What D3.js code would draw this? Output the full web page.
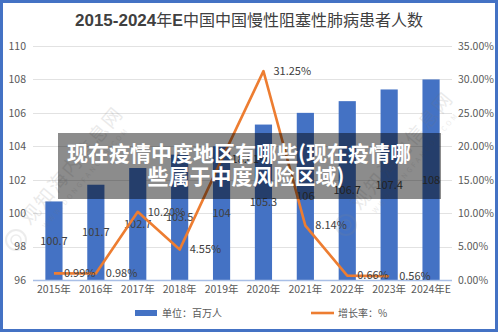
<!DOCTYPE html>
<html>
<head>
<meta charset="utf-8">
<script src="https://cdn.jsdelivr.net/npm/d3@7"></script>
<style>
  html, body { margin: 0; padding: 0; background: #fff; }
  svg { display: block; }
  text { font-family: "Noto Sans CJK SC", "Noto Sans", sans-serif; }
</style>
</head>
<body>
<svg id="chart" width="500" height="334"></svg>
<script>
// Patients with COPD in China (millions) and year-on-year growth (%)
const years = ["2015年", "2016年", "2017年", "2018年", "2019年", "2020年", "2021年", "2022年", "2023年", "2024年E"];
const patients = [100.7, 101.7, 102.7, 103.5, 104, 105.3, 106, 106.7, 107.4, 108];
const growth = [0.99, 0.98, 10.20, 4.55, 18.01, 31.25, 8.14, 0.66, 0.56, null];
const leftTicks = [96, 98, 100, 102, 104, 106, 108, 110];
const rightTicks = [0, 5, 10, 15, 20, 25, 30, 35];
const legendLabels = ["单位：百万人", "增长率：%"];
const titleNum = "2015-2024年E";
const titleText = "中国中国慢性阻塞性肺病患者人数";
const bannerLines = ["现在疫情中度地区有哪些(现在疫情哪", "些属于中度风险区域)"];

const BLUE = "#4472C4", ORANGE = "#ED7D31", LABEL = "#404040", AXIS = "#595959";
const svg = d3.select("#chart");
const plot = { left: 33, right: 452, top: 46, bottom: 280 };

const x = d3.scaleBand().domain(years).range([plot.left, plot.right])
  .paddingInner(0.59).paddingOuter(0.295);
const yL = d3.scaleLinear().domain([96, 110]).range([plot.bottom, plot.top]);
const yR = d3.scaleLinear().domain([0, 35]).range([plot.bottom, plot.top]);
const cx = d => x(d) + x.bandwidth() / 2;

// title
const title = svg.append("text").attr("x", 249).attr("y", 26)
  .attr("text-anchor", "middle").attr("fill", LABEL).attr("font-size", 16);
title.append("tspan").attr("font-weight", "bold").attr("font-family", "Liberation Sans Narrow, Liberation Sans, sans-serif")
  .attr("font-size", 17).text(titleNum.replace("年E", ""));
title.append("tspan").text("年");
title.append("tspan").attr("font-weight", "bold").attr("font-family", "Liberation Sans, sans-serif").text("E");
title.append("tspan").text(titleText);

// gridlines
svg.append("g").selectAll("line").data(leftTicks.filter(t => t > 96)).join("line")
  .attr("x1", plot.left).attr("x2", plot.right)
  .attr("y1", d => Math.round(yL(d)) + 0.5).attr("y2", d => Math.round(yL(d)) + 0.5)
  .attr("stroke", "#e2e2e2").attr("stroke-width", 1);

// left axis
const axL = svg.append("g").attr("transform", `translate(${plot.left},0)`)
  .call(d3.axisLeft(yL).tickValues(leftTicks).tickSize(0).tickPadding(7).tickFormat(d3.format("d")));
axL.select(".domain").remove();
axL.selectAll("text").attr("fill", AXIS).attr("font-size", 10.5).attr("font-family", "Liberation Sans, sans-serif");

// right axis
const axR = svg.append("g").attr("transform", `translate(${plot.right},0)`)
  .call(d3.axisRight(yR).tickValues(rightTicks).tickSize(0).tickPadding(6).tickFormat(d => d3.format(".2f")(d) + "%"));
axR.select(".domain").remove();
axR.selectAll("text").attr("fill", AXIS).attr("font-size", 10.5).attr("font-family", "Liberation Sans, sans-serif");

// bars
svg.append("g").selectAll("rect").data(patients).join("rect")
  .attr("x", (d, i) => x(years[i])).attr("width", x.bandwidth())
  .attr("y", d => yL(d)).attr("height", d => plot.bottom - yL(d))
  .attr("fill", BLUE);

// baseline
svg.append("line").attr("x1", plot.left).attr("x2", plot.right)
  .attr("y1", plot.bottom + 0.5).attr("y2", plot.bottom + 0.5)
  .attr("stroke", "#a9bfe6").attr("stroke-width", 1.5);

// x axis labels
const axB = svg.append("g").attr("transform", `translate(0,${plot.bottom})`)
  .call(d3.axisBottom(x).tickSize(0).tickPadding(6));
axB.select(".domain").remove();
axB.selectAll("text").attr("fill", AXIS).attr("font-size", 10.5);

// bar value labels, centred in bar
svg.append("g").selectAll("text").data(patients).join("text")
  .attr("x", (d, i) => cx(years[i])).attr("y", d => (yL(d) + plot.bottom) / 2)
  .attr("dy", "0.35em").attr("text-anchor", "middle")
  .attr("fill", LABEL).attr("font-size", 11).attr("font-family", "Liberation Sans, sans-serif")
  .text(d => d);

// growth line
const pts = growth.map((g, i) => ({ g, yr: years[i] })).filter(p => p.g !== null);
svg.append("path").datum(pts)
  .attr("d", d3.line().x(p => cx(p.yr)).y(p => yR(p.g)))
  .attr("fill", "none").attr("stroke", ORANGE).attr("stroke-width", 2.6)
  .attr("stroke-linejoin", "round");

svg.append("g").selectAll("text").data(pts).join("text")
  .attr("x", p => cx(p.yr) + 10).attr("y", p => yR(p.g))
  .attr("dy", "0.35em").attr("fill", LABEL).attr("font-size", 11)
  .attr("font-family", "Liberation Sans, sans-serif")
  .text(p => d3.format(".2f")(p.g) + "%");

// legend
const lg = svg.append("g");
lg.append("rect").attr("x", 135).attr("y", 310).attr("width", 22).attr("height", 6).attr("fill", BLUE);
lg.append("text").attr("x", 162).attr("y", 313).attr("dy", "0.35em").attr("fill", AXIS).attr("font-size", 10).text(legendLabels[0]);
lg.append("line").attr("x1", 311).attr("x2", 334).attr("y1", 313).attr("y2", 313).attr("stroke", ORANGE).attr("stroke-width", 2.6);
lg.append("text").attr("x", 338).attr("y", 313).attr("dy", "0.35em").attr("fill", AXIS).attr("font-size", 10).text(legendLabels[1]);

// faint site watermarks
function watermark(lx, ly) {
  const g = svg.append("g").attr("opacity", 0.15);
  g.append("circle").attr("cx", lx).attr("cy", ly).attr("r", 10).attr("fill", "none").attr("stroke", "#888").attr("stroke-width", 2);
  g.append("circle").attr("cx", lx).attr("cy", ly).attr("r", 5).attr("fill", "none").attr("stroke", "#888").attr("stroke-width", 1.5);
  const t = g.append("g").attr("transform", `translate(${lx + 14},${ly - 14}) rotate(-50)`);
  t.append("text").attr("x", 0).attr("y", 0).attr("fill", "#777").attr("font-size", 19).attr("letter-spacing", 2).text("观知海内信息网");
  t.append("text").attr("x", 8).attr("y", 14).attr("fill", "#777").attr("font-size", 7).attr("letter-spacing", 2.5).text("WWW.DONGFANGOB.COM");
}
watermark(16, 240);
watermark(346, 225);

// headline banner
svg.append("rect").attr("x", 58).attr("y", 133).attr("width", 383).attr("height", 66)
  .attr("fill", "#000").attr("opacity", 0.45);
svg.append("g").selectAll("text").data(bannerLines).join("text")
  .attr("x", (d, i) => i === 0 ? 239 : 246).attr("y", (d, i) => 154 + i * 23).attr("dy", "0.35em")
  .attr("text-anchor", "middle").attr("fill", "#fff").attr("font-size", 21).attr("font-weight", "bold")
  .text(d => d);

// frame
svg.append("rect").attr("x", 1.5).attr("y", 1.5).attr("width", 495).attr("height", 329)
  .attr("fill", "none").attr("stroke", BLUE).attr("stroke-width", 3);
</script>
</body>
</html>
